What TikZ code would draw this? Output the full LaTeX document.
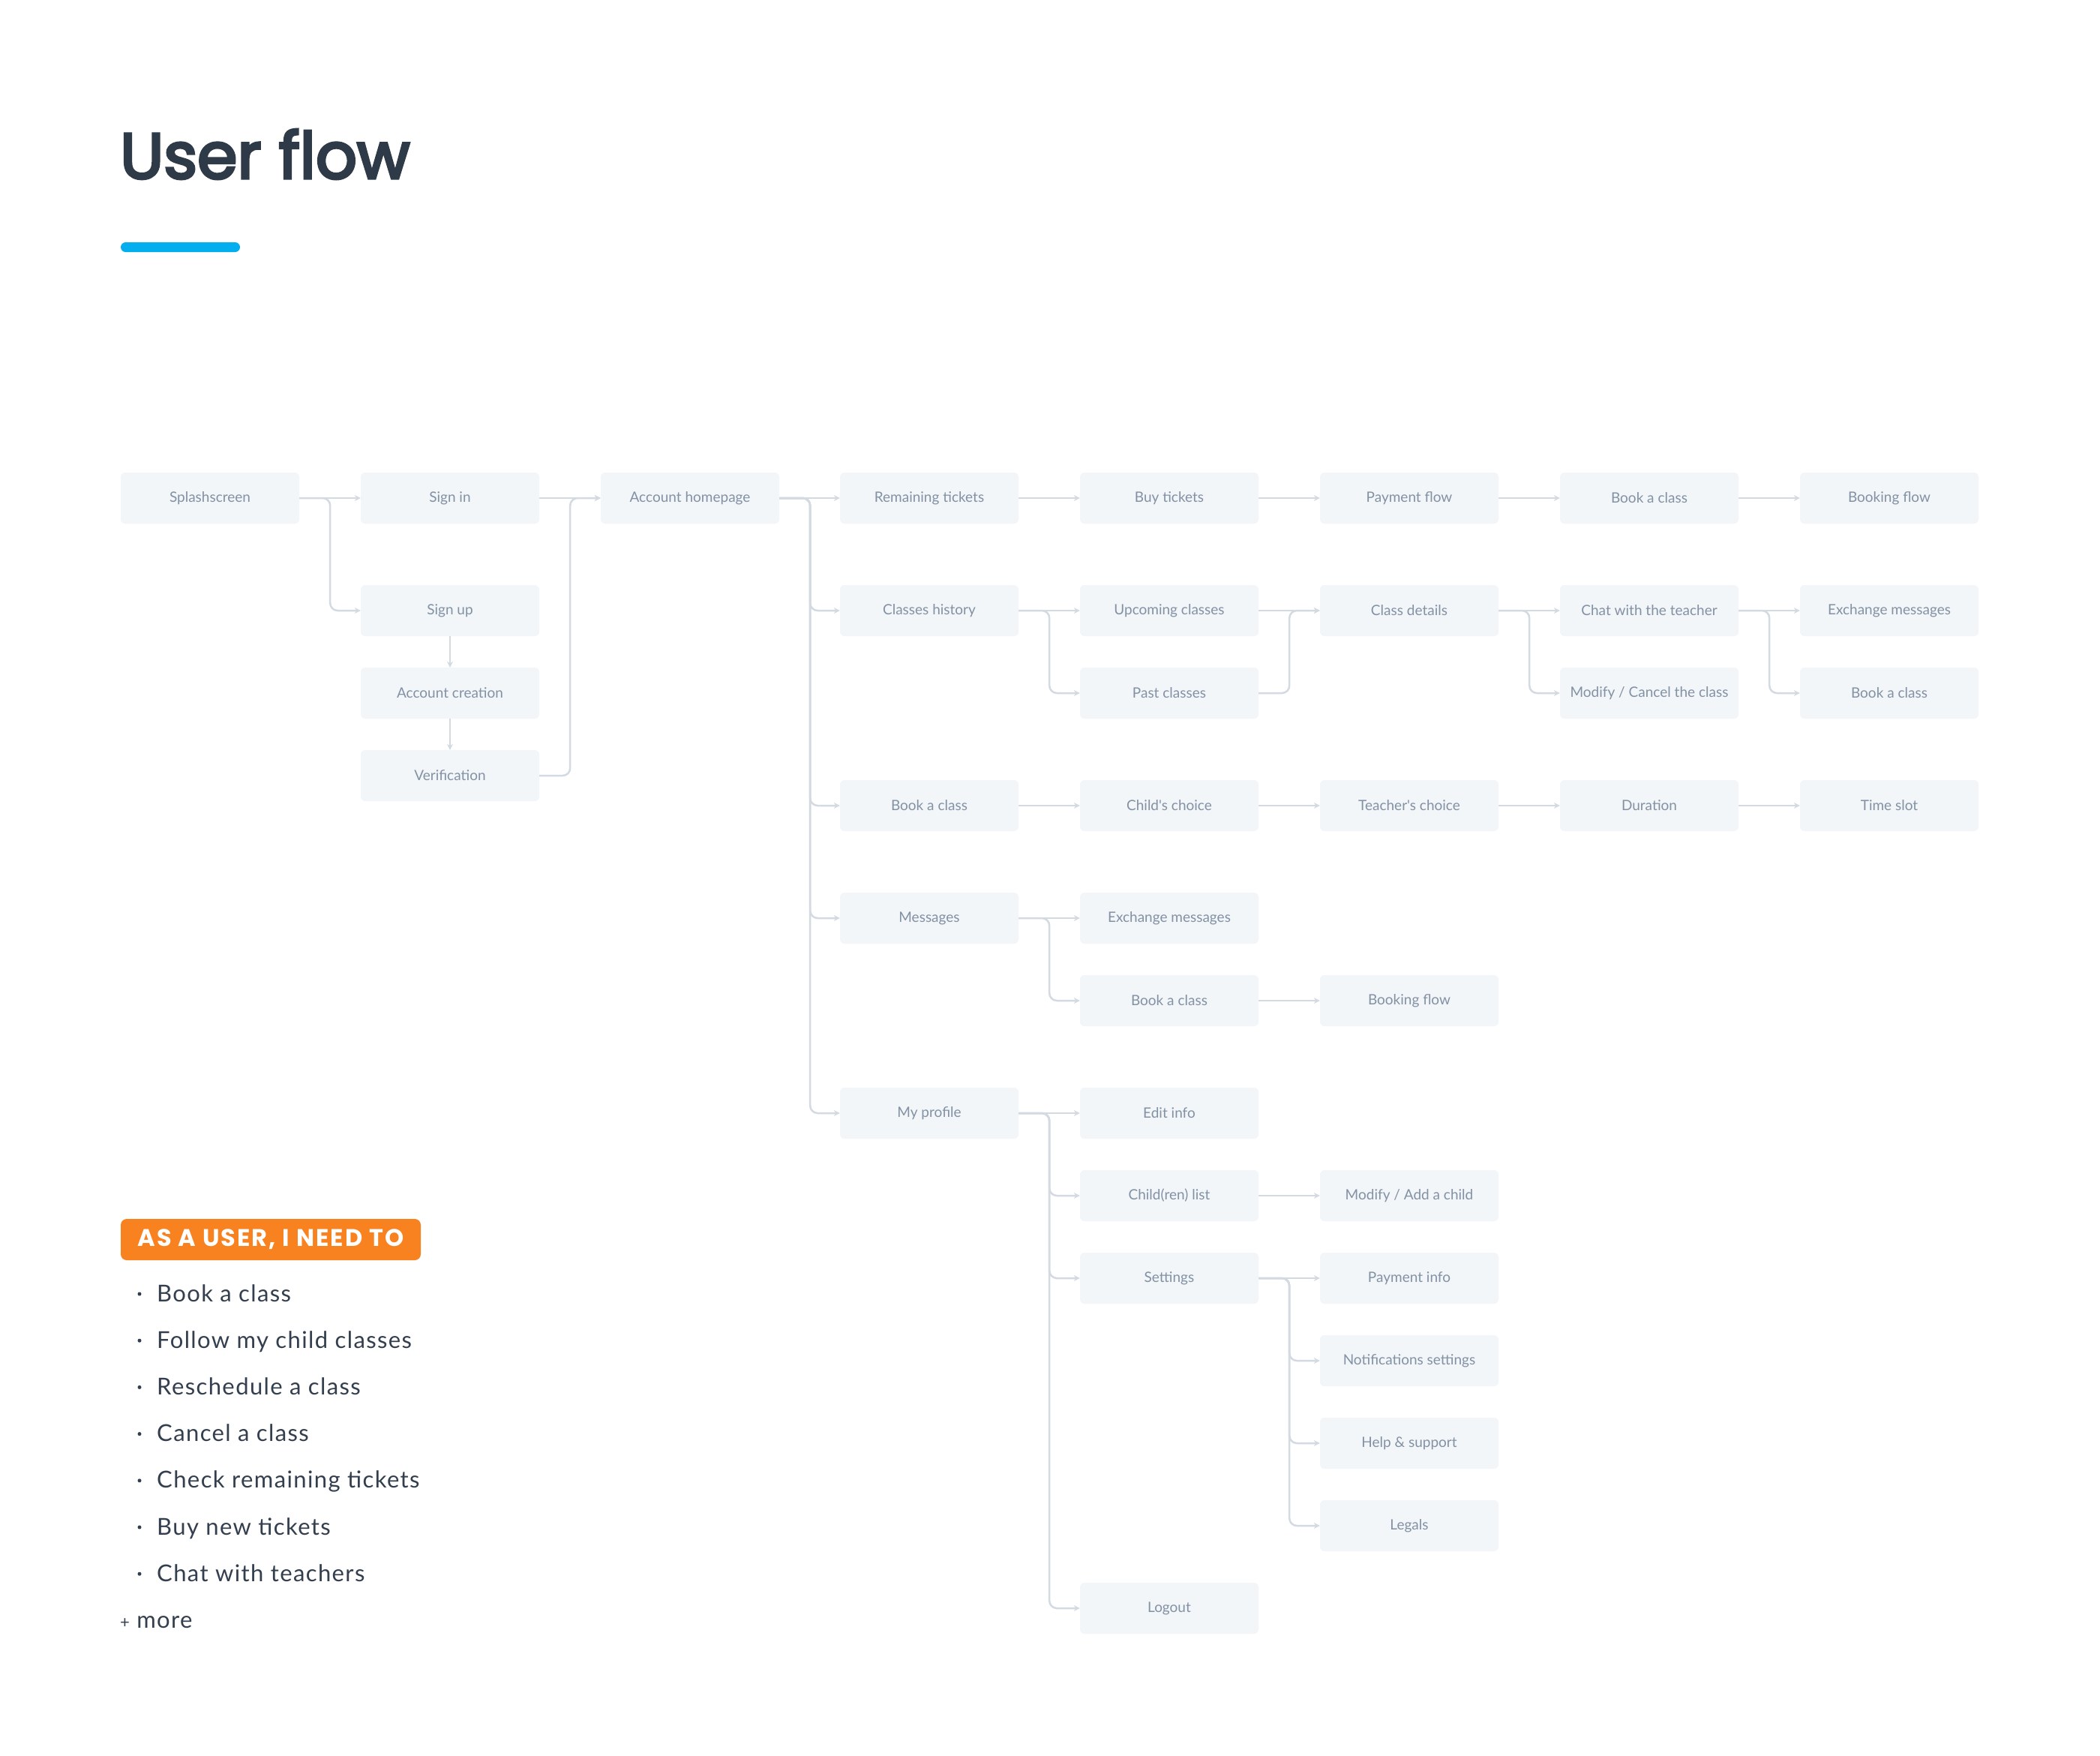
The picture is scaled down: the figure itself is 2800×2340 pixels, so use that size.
\documentclass[tikz,border=0pt]{standalone}
\usepackage{fontspec}
\setmainfont{Lato}
\newfontfamily\titlefont{Poppins}[FakeBold=4]
\newfontfamily\labelfont{Poppins}[LetterSpace=6.5]
\newfontfamily\boxfont{Lato}
\newfontfamily\listfont{Lato}[LetterSpace=4.5]
\usetikzlibrary{arrows.meta}
\definecolor{boxfill}{HTML}{F2F6F8}
\definecolor{boxtext}{HTML}{8391A5}
\definecolor{linecol}{HTML}{D3DAE2}
\definecolor{titlecol}{HTML}{2E3A48}
\definecolor{bluebar}{HTML}{03AEEF}
\definecolor{orangelab}{HTML}{F7821F}
\definecolor{listcol}{HTML}{333F4E}
\begin{document}
\begin{tikzpicture}[x=1pt,y=-1pt,
  flowbox/.style={rectangle, rounded corners=6pt, fill=boxfill, minimum width=238pt, minimum height=68pt, inner sep=0pt, text=boxtext, font=\boxfont\fontsize{19}{21}\selectfont},
  conn/.style={draw=linecol, line width=2.5pt, rounded corners=10pt, -{Stealth[length=8pt,width=8pt]}},
  listitem/.style={anchor=base west, inner sep=0pt, text=listcol, font=\listfont\fontsize{31}{33}\selectfont},
  bulletdot/.style={circle, fill=listcol, inner sep=0pt, minimum size=5pt},
]
\fill[white] (0,0) rectangle (2800,2340);
\useasboundingbox (0,0) rectangle (2800,2340);

% title
\node[anchor=base west, inner sep=0pt, text=titlecol, font=\titlefont\fontsize{86}{90}\selectfont] (title) at (160,238) {User flow};
\node[fill=bluebar, rounded corners=6.5pt, minimum width=159pt, minimum height=13pt, inner sep=0pt] (bar) at (240.5,329.5) {};

% column centres
\def\ca{280}\def\cb{600}\def\cc{920}\def\cd{1239}\def\ce{1559}\def\cf{1879}\def\cg{2199}\def\ch{2519}

% row 1
\node[flowbox] (splash) at (\ca,664) {Splashscreen};
\node[flowbox] (signin) at (\cb,664) {Sign in};
\node[flowbox] (home) at (\cc,664) {Account homepage};
\node[flowbox] (remain) at (\cd,664) {Remaining tickets};
\node[flowbox] (buy) at (\ce,664) {Buy tickets};
\node[flowbox] (pay) at (\cf,664) {Payment flow};
\node[flowbox] (booka) at (\cg,664) {Book a class};
\node[flowbox] (bflowa) at (\ch,664) {Booking flow};
% row 2
\node[flowbox] (signup) at (\cb,814) {Sign up};
\node[flowbox] (hist) at (\cd,814) {Classes history};
\node[flowbox] (upcoming) at (\ce,814) {Upcoming classes};
\node[flowbox] (details) at (\cf,814) {Class details};
\node[flowbox] (chat) at (\cg,814) {Chat with the teacher};
\node[flowbox] (exchb) at (\ch,814) {Exchange messages};
% row 3
\node[flowbox] (acccreate) at (\cb,924) {Account creation};
\node[flowbox] (past) at (\ce,924) {Past classes};
\node[flowbox] (modify) at (\cg,924) {Modify / Cancel the class};
\node[flowbox] (bookb) at (\ch,924) {Book a class};
\node[flowbox] (verif) at (\cb,1034) {Verification};
% row 4
\node[flowbox] (bookc) at (\cd,1074) {Book a class};
\node[flowbox] (child) at (\ce,1074) {Child's choice};
\node[flowbox] (teacher) at (\cf,1074) {Teacher's choice};
\node[flowbox] (duration) at (\cg,1074) {Duration};
\node[flowbox] (slot) at (\ch,1074) {Time slot};
% messages
\node[flowbox] (msgs) at (\cd,1224) {Messages};
\node[flowbox] (exchc) at (\ce,1224) {Exchange messages};
\node[flowbox] (bookd) at (\ce,1334) {Book a class};
\node[flowbox] (bflowd) at (\cf,1334) {Booking flow};
% profile
\node[flowbox] (profile) at (\cd,1484) {My profile};
\node[flowbox] (edit) at (\ce,1484) {Edit info};
\node[flowbox] (children) at (\ce,1594) {Child(ren) list};
\node[flowbox] (addchild) at (\cf,1594) {Modify / Add a child};
\node[flowbox] (settings) at (\ce,1704) {Settings};
\node[flowbox] (payinfo) at (\cf,1704) {Payment info};
\node[flowbox] (notif) at (\cf,1814) {Notifications settings};
\node[flowbox] (help) at (\cf,1924) {Help \& support};
\node[flowbox] (legals) at (\cf,2034) {Legals};
\node[flowbox] (logout) at (\ce,2144) {Logout};

% connectors: straight
\foreach \a/\b in {splash/signin, signin/home, home/remain, remain/buy, buy/pay, pay/booka, booka/bflowa,
  hist/upcoming, upcoming/details, details/chat, chat/exchb,
  bookc/child, child/teacher, teacher/duration, duration/slot,
  msgs/exchc, bookd/bflowd, profile/edit, children/addchild, settings/payinfo}
  \draw[conn] (\a.east) -- (\b.west);
% connectors: branches
\foreach \a/\b in {splash/signup, verif/home, home/hist, home/bookc, home/msgs, home/profile,
  hist/past, past/details, details/modify, chat/bookb, msgs/bookd,
  profile/children, profile/settings, profile/logout,
  settings/notif, settings/help, settings/legals}
  \draw[conn] (\a.east) -- ++(41,0) |- (\b.west);
% vertical
\draw[conn] (signup.south) -- (acccreate.north);
\draw[conn] (acccreate.south) -- (verif.north);

% user needs
\node[fill=orangelab, rounded corners=8pt, minimum width=400pt, minimum height=55pt, inner sep=0pt, text=white, font=\labelfont\bfseries\fontsize{32}{34}\selectfont] (need) at (361,1652.5) {AS A USER, I NEED TO};

\foreach \t [count=\i from 0] in {Book a class, Follow my child classes, Reschedule a class, Cancel a class, Check remaining tickets, Buy new tickets, Chat with teachers}{
  \node[bulletdot] (dot\i) at (186,1725+62.2*\i) {};
  \node[listitem] (item\i) at (209,1735+62.2*\i) {\t};
}
\node[listitem] (more) at (160,2170) {{\fontsize{22}{22}\selectfont +}\ more};
\end{tikzpicture}
\end{document}
